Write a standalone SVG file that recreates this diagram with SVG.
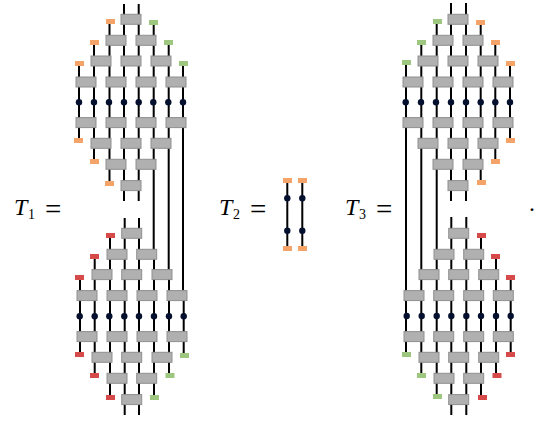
<svg xmlns="http://www.w3.org/2000/svg" width="537" height="424" viewBox="0 0 537 424">
<style>
.w{stroke:#000;stroke-width:2;fill:none}
.b{fill:#b0b0b0;stroke:#8f8f8f;stroke-width:1}
.o{fill:#f4a468}.g{fill:#9dc77f}.r{fill:#d64a4a}
.d{fill:#04102e}
.t{font-family:"Liberation Serif",serif;fill:#000}
.i{font-style:italic;font-size:24px}.s{font-size:14px}.e{font-size:29px}.p{font-size:24px}
</style>
<defs>
<rect id="bx" class="b" width="20" height="10"/>
<rect id="sq" width="9" height="5"/>
<circle id="dt" class="d" r="3.2"/>
</defs>
<g id="connectors" class="w">
<path d="M79 63V140M94 42V161M109.5 21V183M124 4V201M138.7 4V201M153.7 21V249M168.7 42V270M183 63V290"/>
<path d="M80 277V354M94.7 256V375M110 235V397M124.7 218V415M139 218V415M154 249V397M169 270V375M183.7 290V355"/>
<path d="M287.3 180V248M302.3 180V248"/>
<path d="M406 62V354M421.3 42V375M436.7 21V397M451 3V201M466 3V201M480.7 22V182M495.3 42V161M510 63V140"/>
<path d="M451.3 217V415M466.3 217V415M481 235V397M496 256V375M510.7 277V354"/>
</g>
<g id="t1-top">
<g id="a1"><use href="#bx" x="121" y="14.3"/></g>
<g id="a2"><use href="#bx" x="106" y="35.3"/></g><g id="a3"><use href="#bx" x="136" y="35.3"/></g>
<g id="a4"><use href="#bx" x="91" y="56"/></g><g id="a5"><use href="#bx" x="121" y="56"/></g><g id="a6"><use href="#bx" x="151" y="56"/></g>
<g id="a7"><use href="#bx" x="76" y="77"/></g><g id="a8"><use href="#bx" x="106" y="77"/></g><g id="a9"><use href="#bx" x="136" y="77"/></g><g id="a10"><use href="#bx" x="166" y="77"/></g>
<g id="a11"><use href="#bx" x="76" y="117.6"/></g><g id="a12"><use href="#bx" x="106" y="117.6"/></g><g id="a13"><use href="#bx" x="136" y="117.6"/></g><g id="a14"><use href="#bx" x="166" y="117.6"/></g>
<g id="a15"><use href="#bx" x="91" y="138.3"/></g><g id="a16"><use href="#bx" x="121" y="138.3"/></g><g id="a17"><use href="#bx" x="151" y="138.3"/></g>
<g id="a18"><use href="#bx" x="106" y="159.3"/></g><g id="a19"><use href="#bx" x="136" y="159.3"/></g>
<g id="a20"><use href="#bx" x="121" y="180.6"/></g>
<g id="as1"><use href="#sq" class="o" x="106" y="19"/></g><g id="as2"><use href="#sq" class="o" x="90" y="40"/></g><g id="as3"><use href="#sq" class="o" x="75" y="61"/></g>
<g id="as4"><use href="#sq" class="g" x="149" y="20"/></g><g id="as5"><use href="#sq" class="g" x="164" y="40"/></g><g id="as6"><use href="#sq" class="g" x="179" y="61"/></g>
<g id="as7"><use href="#sq" class="o" x="74" y="138"/></g><g id="as8"><use href="#sq" class="o" x="90" y="159"/></g><g id="as9"><use href="#sq" class="o" x="105" y="181"/></g>
<g id="ad1"><use href="#dt" x="79" y="102.3"/></g><g id="ad2"><use href="#dt" x="94" y="102.3"/></g><g id="ad3"><use href="#dt" x="109" y="102.3"/></g><g id="ad4"><use href="#dt" x="124" y="102.3"/></g><g id="ad5"><use href="#dt" x="138.7" y="102.3"/></g><g id="ad6"><use href="#dt" x="153.3" y="102.3"/></g><g id="ad7"><use href="#dt" x="168.3" y="102.3"/></g><g id="ad8"><use href="#dt" x="183" y="102.3"/></g>
</g>
<g id="t1-bottom">
<g id="c1"><use href="#bx" x="121.7" y="228.3"/></g>
<g id="c2"><use href="#bx" x="107" y="249.3"/></g><g id="c3"><use href="#bx" x="136.7" y="249.3"/></g>
<g id="c4"><use href="#bx" x="92" y="269.6"/></g><g id="c5"><use href="#bx" x="121.7" y="269.6"/></g><g id="c6"><use href="#bx" x="152" y="269.6"/></g>
<g id="c7"><use href="#bx" x="77" y="290.6"/></g><g id="c8"><use href="#bx" x="107" y="290.6"/></g><g id="c9"><use href="#bx" x="137" y="290.6"/></g><g id="c10"><use href="#bx" x="167" y="290.6"/></g>
<g id="c11"><use href="#bx" x="77" y="331.6"/></g><g id="c12"><use href="#bx" x="107" y="331.6"/></g><g id="c13"><use href="#bx" x="137" y="331.6"/></g><g id="c14"><use href="#bx" x="167" y="331.6"/></g>
<g id="c15"><use href="#bx" x="92" y="352.3"/></g><g id="c16"><use href="#bx" x="121.7" y="352.3"/></g><g id="c17"><use href="#bx" x="152" y="352.3"/></g>
<g id="c18"><use href="#bx" x="107" y="373.3"/></g><g id="c19"><use href="#bx" x="136.7" y="373.3"/></g>
<g id="c20"><use href="#bx" x="121.7" y="394.6"/></g>
<g id="cs1"><use href="#sq" class="r" x="106" y="233"/></g><g id="cs2"><use href="#sq" class="r" x="90" y="254"/></g><g id="cs3"><use href="#sq" class="r" x="75" y="275"/></g>
<g id="cs4"><use href="#sq" class="r" x="75" y="352"/></g><g id="cs5"><use href="#sq" class="r" x="90" y="373"/></g><g id="cs6"><use href="#sq" class="r" x="106" y="395"/></g>
<g id="cs7"><use href="#sq" class="g" x="180" y="353"/></g><g id="cs8"><use href="#sq" class="g" x="165.500" y="373"/></g><g id="cs9"><use href="#sq" class="g" x="150" y="395"/></g>
<g id="cd1"><use href="#dt" x="79.700" y="316.300"/></g><g id="cd2"><use href="#dt" x="94.700" y="316.300"/></g><g id="cd3"><use href="#dt" x="109.300" y="316.300"/></g><g id="cd4"><use href="#dt" x="124.300" y="316.300"/></g><g id="cd5"><use href="#dt" x="139" y="316.300"/></g><g id="cd6"><use href="#dt" x="154" y="316.300"/></g><g id="cd7"><use href="#dt" x="169" y="316.300"/></g><g id="cd8"><use href="#dt" x="183.700" y="316.300"/></g>
</g>
<g id="t2">
<g id="ts1"><use href="#sq" class="o" x="283" y="178"/></g><g id="ts2"><use href="#sq" class="o" x="298" y="178"/></g>
<g id="ts3"><use href="#sq" class="o" x="283" y="246"/></g><g id="ts4"><use href="#sq" class="o" x="298" y="246"/></g>
<g id="td1"><use href="#dt" x="287.300" y="198.300"/></g><g id="td2"><use href="#dt" x="302.300" y="198.300"/></g>
<g id="td3"><use href="#dt" x="287.300" y="230.700"/></g><g id="td4"><use href="#dt" x="302.300" y="230.700"/></g>
</g>
<g id="t3-top">
<g id="e1"><use href="#bx" x="448" y="14.3"/></g>
<g id="e2"><use href="#bx" x="433" y="35.3"/></g><g id="e3"><use href="#bx" x="463" y="35.3"/></g>
<g id="e4"><use href="#bx" x="418" y="56"/></g><g id="e5"><use href="#bx" x="448" y="56"/></g><g id="e6"><use href="#bx" x="478" y="56"/></g>
<g id="e7"><use href="#bx" x="403" y="77"/></g><g id="e8"><use href="#bx" x="433" y="77"/></g><g id="e9"><use href="#bx" x="463" y="77"/></g><g id="e10"><use href="#bx" x="493" y="77"/></g>
<g id="e11"><use href="#bx" x="403" y="117.6"/></g><g id="e12"><use href="#bx" x="433" y="117.6"/></g><g id="e13"><use href="#bx" x="463" y="117.6"/></g><g id="e14"><use href="#bx" x="493" y="117.6"/></g>
<g id="e15"><use href="#bx" x="418" y="138.3"/></g><g id="e16"><use href="#bx" x="448" y="138.3"/></g><g id="e17"><use href="#bx" x="478" y="138.3"/></g>
<g id="e18"><use href="#bx" x="433" y="159.3"/></g><g id="e19"><use href="#bx" x="463" y="159.3"/></g>
<g id="e20"><use href="#bx" x="448" y="180.6"/></g>
<g id="es1"><use href="#sq" class="g" x="433" y="19"/></g><g id="es2"><use href="#sq" class="g" x="417" y="40"/></g><g id="es3"><use href="#sq" class="g" x="402" y="60"/></g>
<g id="es4"><use href="#sq" class="o" x="476" y="20"/></g><g id="es5"><use href="#sq" class="o" x="491" y="40"/></g><g id="es6"><use href="#sq" class="o" x="506" y="61"/></g>
<g id="es7"><use href="#sq" class="o" x="506" y="138"/></g><g id="es8"><use href="#sq" class="o" x="491" y="159"/></g><g id="es9"><use href="#sq" class="o" x="477" y="180"/></g>
<g id="ed1"><use href="#dt" x="405.700" y="102.300"/></g><g id="ed2"><use href="#dt" x="421" y="102.300"/></g><g id="ed3"><use href="#dt" x="436" y="102.300"/></g><g id="ed4"><use href="#dt" x="451" y="102.300"/></g><g id="ed5"><use href="#dt" x="466" y="102.300"/></g><g id="ed6"><use href="#dt" x="480.700" y="102.300"/></g><g id="ed7"><use href="#dt" x="495.300" y="102.300"/></g><g id="ed8"><use href="#dt" x="510" y="102.300"/></g>
</g>
<g id="t3-bottom">
<g id="f1"><use href="#bx" x="448.700" y="228.3"/></g>
<g id="f2"><use href="#bx" x="434" y="249.3"/></g><g id="f3"><use href="#bx" x="463.700" y="249.3"/></g>
<g id="f4"><use href="#bx" x="419" y="269.6"/></g><g id="f5"><use href="#bx" x="448.700" y="269.6"/></g><g id="f6"><use href="#bx" x="478.700" y="269.6"/></g>
<g id="f7"><use href="#bx" x="404" y="290.6"/></g><g id="f8"><use href="#bx" x="433.700" y="290.6"/></g><g id="f9"><use href="#bx" x="463.700" y="290.6"/></g><g id="f10"><use href="#bx" x="493.300" y="290.6"/></g>
<g id="f11"><use href="#bx" x="404" y="331.6"/></g><g id="f12"><use href="#bx" x="433.700" y="331.6"/></g><g id="f13"><use href="#bx" x="463.700" y="331.6"/></g><g id="f14"><use href="#bx" x="493.300" y="331.6"/></g>
<g id="f15"><use href="#bx" x="419" y="352.3"/></g><g id="f16"><use href="#bx" x="448.700" y="352.3"/></g><g id="f17"><use href="#bx" x="478.700" y="352.3"/></g>
<g id="f18"><use href="#bx" x="434" y="373.3"/></g><g id="f19"><use href="#bx" x="463.700" y="373.3"/></g>
<g id="f20"><use href="#bx" x="448.700" y="394.6"/></g>
<g id="fs1"><use href="#sq" class="r" x="477" y="233"/></g><g id="fs2"><use href="#sq" class="r" x="491" y="254"/></g><g id="fs3"><use href="#sq" class="r" x="506" y="275"/></g>
<g id="fs4"><use href="#sq" class="g" x="402" y="352"/></g><g id="fs5"><use href="#sq" class="g" x="417" y="373"/></g><g id="fs6"><use href="#sq" class="g" x="433" y="394"/></g>
<g id="fs7"><use href="#sq" class="r" x="506" y="352"/></g><g id="fs8"><use href="#sq" class="r" x="492.500" y="373"/></g><g id="fs9"><use href="#sq" class="r" x="478" y="395"/></g>
<g id="fd1"><use href="#dt" x="406.700" y="316"/></g><g id="fd2"><use href="#dt" x="421.700" y="316"/></g><g id="fd3"><use href="#dt" x="436.700" y="316"/></g><g id="fd4"><use href="#dt" x="451.300" y="316"/></g><g id="fd5"><use href="#dt" x="466.300" y="316"/></g><g id="fd6"><use href="#dt" x="481" y="316"/></g><g id="fd7"><use href="#dt" x="496" y="316"/></g><g id="fd8"><use href="#dt" x="510.700" y="316"/></g>
</g>
<g id="labels" class="t">
<text class="i" x="14" y="215">T</text><text class="s" x="28" y="218.500">1</text><text class="e" x="45" y="218.500">=</text>
<text class="i" x="219" y="215">T</text><text class="s" x="233" y="218.500">2</text><text class="e" x="250" y="218.500">=</text>
<text class="i" x="345" y="215">T</text><text class="s" x="359" y="218.500">3</text><text class="e" x="376" y="218.500">=</text>
<text class="p" x="529" y="211">.</text>
</g>
</svg>
